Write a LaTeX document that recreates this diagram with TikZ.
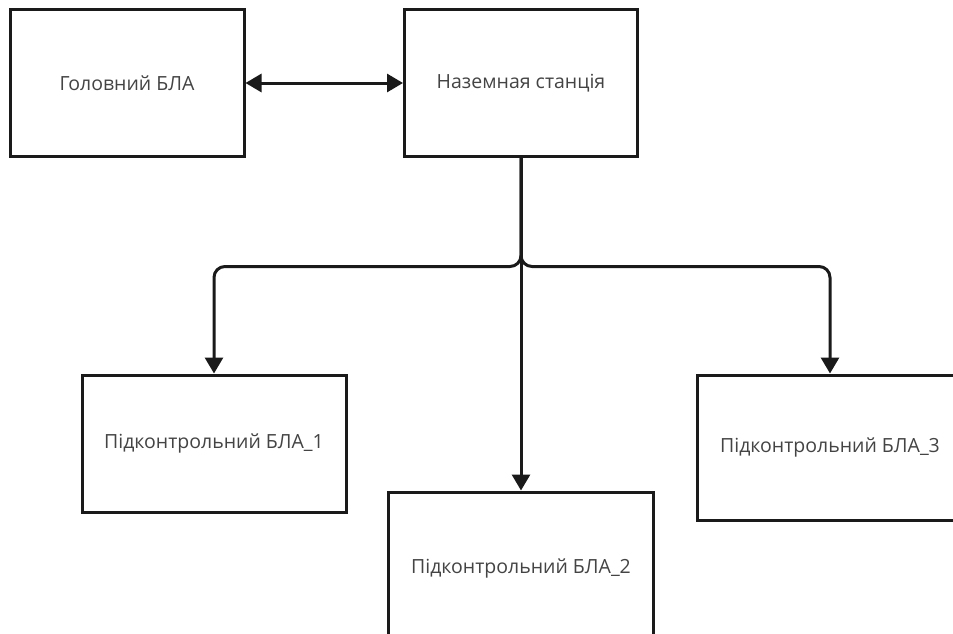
\documentclass[tikz,border=0pt]{standalone}
\usepackage{fontspec}
\setmainfont{Open Sans}
\usetikzlibrary{arrows.meta}
\definecolor{ink}{HTML}{1A1A1A}
\definecolor{label}{HTML}{444444}
\tikzset{
  block/.style={draw=ink, line width=3pt, fill=white, text=label,
    font=\fontsize{19.5}{23}\selectfont, inner sep=0pt},
  tip/.tip={Triangle[length=16pt,width=18pt]},
  link/.style={draw=ink, line width=3pt, -tip},
}
\begin{document}
\begin{tikzpicture}[x=1pt, y=-1pt]
  \clip (0,0) rectangle (953,634);
  \fill[white] (0,0) rectangle (953,634);

  % top row
  \node[block, minimum width=234pt, minimum height=146pt] (lead) at (127,83) {Головний БЛА};
  \node[block, minimum width=233pt, minimum height=146pt] (gs) at (521,83) {Наземная станція};

  % controlled drones
  \node[block, minimum width=264pt, minimum height=137pt] (d1) at (214,443.5) {Підконтрольний БЛА\_1};
  \node[block, minimum width=265pt, minimum height=152pt] (d2) at (521,568) {Підконтрольний БЛА\_2};
  \node[block, minimum width=266pt, minimum height=145pt] (d3) at (830,447.5) {Підконтрольний БЛА\_3};

  % link between the lead drone and the ground station
  \draw[link, tip-tip] (lead.east) -- (gs.west);

  % distribution from the ground station
  \coordinate (split) at ([yshift=-109pt]gs.south);
  \draw[link, rounded corners=11pt] (gs.south) -- (split) -| (d1.north);
  \draw[link, rounded corners=11pt] (gs.south) -- (split) -| (d3.north);
  \draw[link] (gs.south) -- (d2.north);
\end{tikzpicture}
\end{document}
